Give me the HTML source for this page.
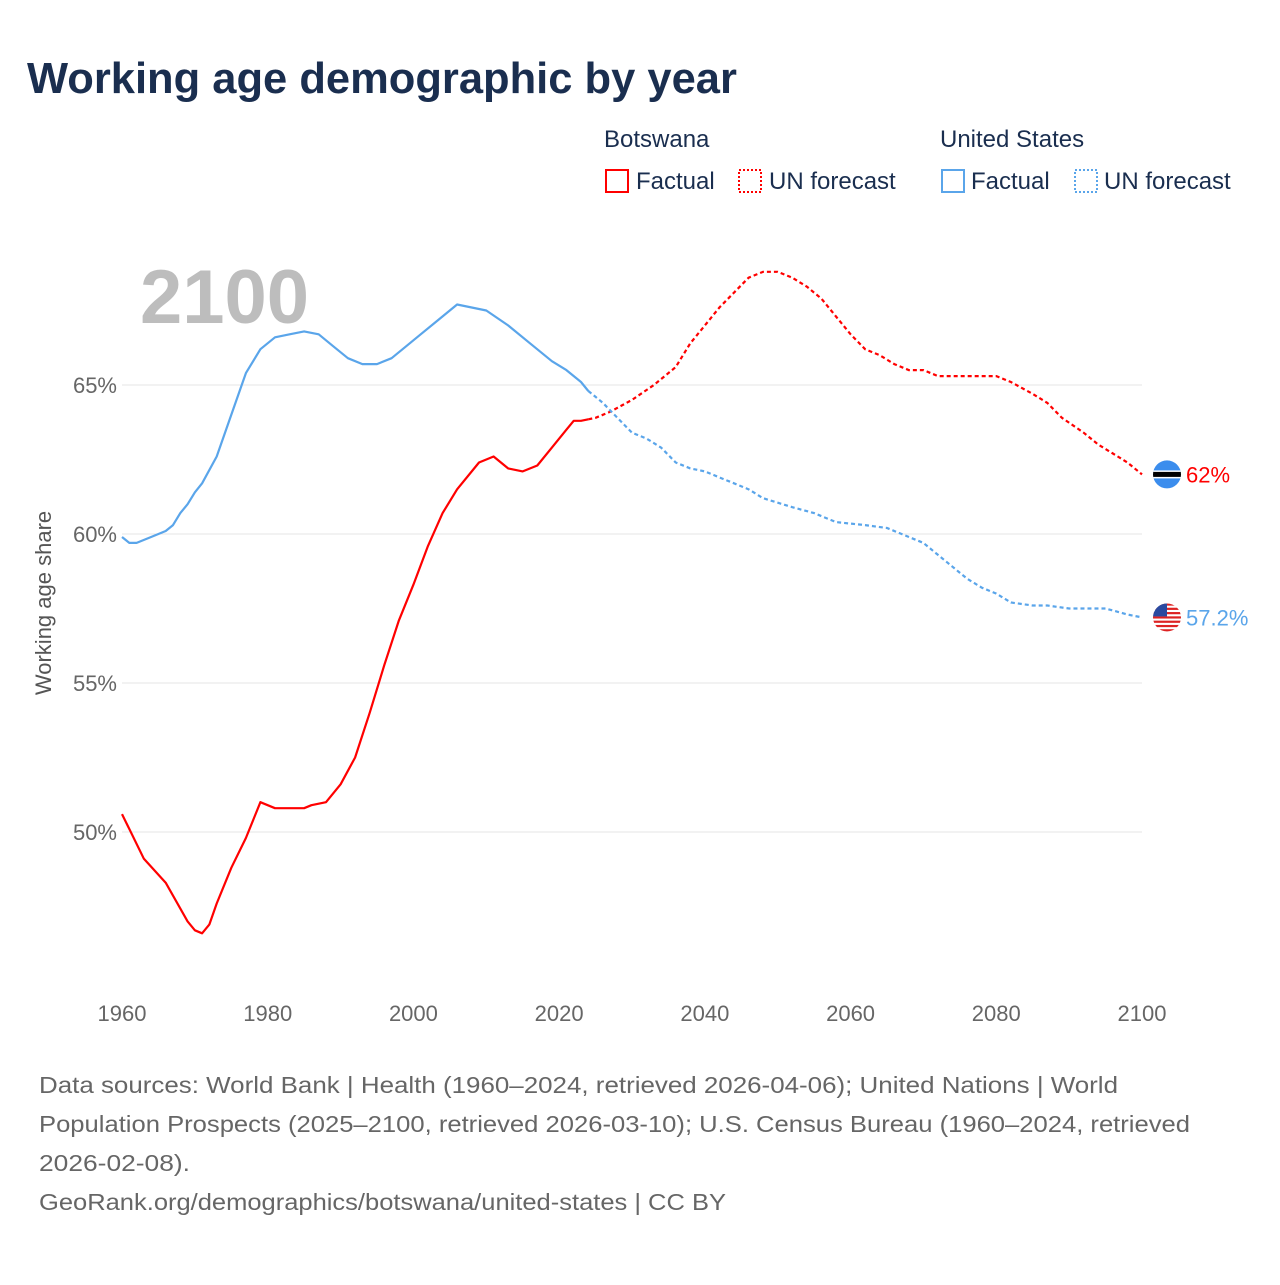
<!DOCTYPE html>
<html><head><meta charset="utf-8"><style>
body{margin:0;background:#fff;font-family:"Liberation Sans",sans-serif;}
svg text{font-family:"Liberation Sans",sans-serif;}
</style></head><body>
<svg width="1280" height="1280" viewBox="0 0 1280 1280">
<text x="27" y="93" font-size="43.5" font-weight="bold" fill="#1a2e4f">Working age demographic by year</text>
<g font-size="24" fill="#1a2e4f">
<text x="604" y="147">Botswana</text>
<rect x="606" y="170" width="22" height="22" fill="none" stroke="#f00" stroke-width="2"/>
<text x="636" y="189">Factual</text>
<rect x="739" y="170" width="22" height="22" fill="none" stroke="#f00" stroke-width="2" stroke-dasharray="2,2"/>
<text x="769" y="189">UN forecast</text>
<text x="940" y="147">United States</text>
<rect x="942" y="170" width="22" height="22" fill="none" stroke="#5aa5ea" stroke-width="2"/>
<text x="971" y="189">Factual</text>
<rect x="1075" y="170" width="22" height="22" fill="none" stroke="#5aa5ea" stroke-width="2" stroke-dasharray="2,2"/>
<text x="1104" y="189">UN forecast</text>
</g>
<text x="140" y="323" font-size="76" font-weight="bold" fill="#bdbdbd">2100</text>
<g id="grid"></g>
<g id="axes"></g>
<g id="lines"></g>
<text transform="translate(51,603) rotate(-90)" text-anchor="middle" font-size="22" fill="#555">Working age share</text>
<g id="ends"></g>
<g font-size="23" fill="#666">
<text x="39" y="1093" textLength="1079" lengthAdjust="spacingAndGlyphs">Data sources: World Bank | Health (1960–2024, retrieved 2026-04-06); United Nations | World</text>
<text x="39" y="1132" textLength="1151" lengthAdjust="spacingAndGlyphs">Population Prospects (2025–2100, retrieved 2026-03-10); U.S. Census Bureau (1960–2024, retrieved</text>
<text x="39" y="1171" textLength="151" lengthAdjust="spacingAndGlyphs">2026-02-08).</text>
<text x="39" y="1210" textLength="687" lengthAdjust="spacingAndGlyphs">GeoRank.org/demographics/botswana/united-states | CC BY</text>
</g>
</svg>
<script>
const xTicks=[1960,1980,2000,2020,2040,2060,2080,2100];
const yTicks=[50,55,60,65];
const bwYears=[1960,1963,1966,1969,1970,1971,1972,1973,1975,1977,1979,1981,1985,1986,1988,1990,1992,1994,1996,1998,2000,2002,2004,2006,2009,2011,2013,2015,2017,2019,2021,2022,2023,2024,2025,2027,2030,2033,2036,2038,2040,2042,2044,2046,2048,2050,2052,2054,2056,2058,2060,2062,2064,2066,2068,2070,2072,2080,2082,2085,2087,2089,2092,2094,2096,2098,2100];
const bwValues=[50.6,49.1,48.3,47.0,46.7,46.6,46.9,47.6,48.8,49.8,51.0,50.8,50.8,50.9,51.0,51.6,52.5,54.0,55.6,57.1,58.3,59.6,60.7,61.5,62.4,62.6,62.2,62.1,62.3,62.9,63.5,63.8,63.8,63.85,63.9,64.1,64.5,65.0,65.6,66.4,67.0,67.6,68.1,68.6,68.8,68.8,68.6,68.3,67.9,67.3,66.7,66.2,66.0,65.7,65.5,65.5,65.3,65.3,65.1,64.7,64.4,63.9,63.4,63.0,62.7,62.4,62.0];
const usYears=[1960,1961,1962,1964,1966,1967,1968,1969,1970,1971,1973,1975,1977,1979,1981,1983,1985,1987,1989,1991,1993,1995,1997,1999,2001,2003,2006,2008,2010,2013,2016,2019,2021,2023,2024,2025,2026,2028,2030,2032,2034,2036,2038,2040,2042,2044,2046,2048,2052,2055,2058,2062,2065,2068,2070,2072,2074,2076,2078,2080,2082,2085,2087,2090,2095,2098,2100];
const usValues=[59.9,59.7,59.7,59.9,60.1,60.3,60.7,61.0,61.4,61.7,62.6,64.0,65.4,66.2,66.6,66.7,66.8,66.7,66.3,65.9,65.7,65.7,65.9,66.3,66.7,67.1,67.7,67.6,67.5,67.0,66.4,65.8,65.5,65.1,64.8,64.6,64.4,63.9,63.4,63.2,62.9,62.4,62.2,62.1,61.9,61.7,61.5,61.2,60.9,60.7,60.4,60.3,60.2,59.9,59.7,59.3,58.9,58.5,58.2,58.0,57.7,57.6,57.6,57.5,57.5,57.3,57.2];
const lastFactual=2024;
const NS='http://www.w3.org/2000/svg';
const X=y=>122+(y-1960)*(1142-122)/140;
const Y=v=>832-(v-50)*(832-385)/15;
function mk(tag,attrs,parent){const e=document.createElementNS(NS,tag);for(const k in attrs)e.setAttribute(k,attrs[k]);parent.appendChild(e);return e;}
const grid=document.getElementById('grid'),axes=document.getElementById('axes'),lines=document.getElementById('lines'),ends=document.getElementById('ends');
yTicks.forEach(t=>{
 const l=mk('line',{x1:122,x2:1142,y1:Y(t),y2:Y(t),stroke:'#e6e6e6','stroke-width':1},grid);
 
 
 const tx=mk('text',{x:117,y:Y(t)+8,'text-anchor':'end','font-size':22,fill:'#666'},axes);
 tx.textContent=t+'%';
 
 
});
xTicks.forEach(t=>{
 const tx=mk('text',{x:X(t),y:1021,'text-anchor':'middle','font-size':22,fill:'#666'},axes);
 tx.textContent=t;
 
 
});
function series(years,vals,color,name){
 const f=[],p=[];
 years.forEach((y,i)=>{const pt=X(y).toFixed(1)+','+Y(vals[i]).toFixed(1);if(y<=lastFactual)f.push(pt);if(y>=lastFactual)p.push(pt);});
 const a=mk('polyline',{points:f.join(' '),fill:'none',stroke:color,'stroke-width':2.2,'stroke-linejoin':'round'},lines);
 
 
 const b=mk('polyline',{points:p.join(' '),fill:'none',stroke:color,'stroke-width':2.2,'stroke-dasharray':'4,3'},lines);
 
 
}
series(bwYears,bwValues,'#f00','botswana');
series(usYears,usValues,'#5aa5ea','us');
const bwLast=bwValues[bwValues.length-1],usLast=usValues[usValues.length-1];
const by=Y(bwLast),uy=Y(usLast),cx=1167;
const g1=mk('g',{},ends);


mk('defs',{},g1).innerHTML='<clipPath id="c1"><circle cx="'+cx+'" cy="'+by+'" r="14"/></clipPath><clipPath id="c2"><circle cx="'+cx+'" cy="'+uy+'" r="14"/></clipPath>';
mk('circle',{cx:cx,cy:by,r:14,fill:'#3b8ded'},g1);
mk('rect',{x:cx-14,y:by-4,width:28,height:8,fill:'#fff','clip-path':'url(#c1)'},g1);
mk('rect',{x:cx-14,y:by-2.5,width:28,height:5,fill:'#000','clip-path':'url(#c1)'},g1);
const t1=mk('text',{x:1186,y:by+8,'font-size':22,fill:'#f00'},ends);
t1.textContent=Math.round(bwLast*10)/10+'%';


const g2=mk('g',{'clip-path':'url(#c2)'},ends);


mk('circle',{cx:cx,cy:uy,r:14,fill:'#fff'},g2);
for(let i=0;i<7;i++){mk('rect',{x:cx-14,y:uy-14+i*4.3,width:28,height:2.2,fill:'#d22'},g2);}
mk('rect',{x:cx-14,y:uy-14,width:14,height:13,fill:'#2a4aa0'},g2);
const t2=mk('text',{x:1186,y:uy+8,'font-size':22,fill:'#5aa5ea'},ends);
t2.textContent=usLast+'%';


</script>
</body></html>
